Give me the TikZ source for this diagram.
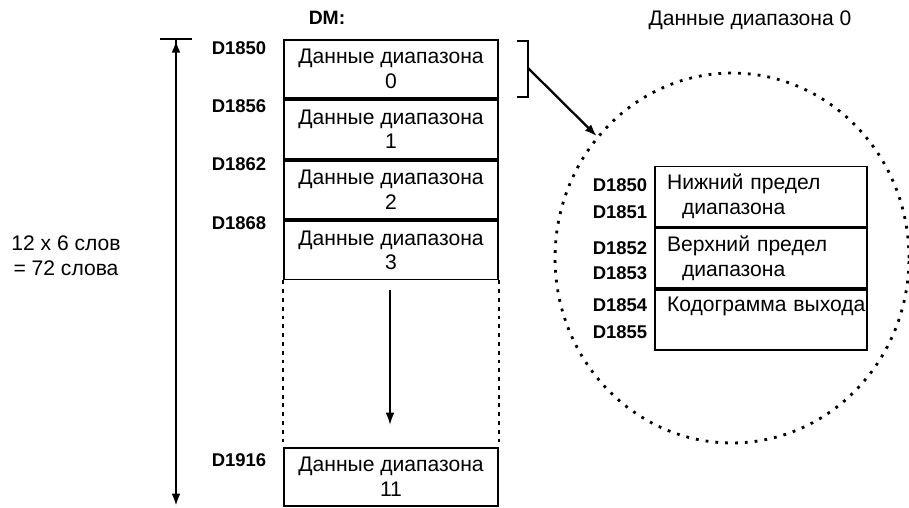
\documentclass[tikz,border=0pt]{standalone}
\usepackage{fontspec}
\setmainfont{Liberation Sans}
\usetikzlibrary{arrows.meta, positioning, shapes.geometric}

\begin{document}
\begin{tikzpicture}[
    x=0.02cm, y=-0.02cm,
    >={Latex[length=7pt,width=5pt]},
    node distance=0pt,
    rangebox/.style={draw, line width=1.1pt, minimum width=4.28cm, minimum height=1.17cm, align=center, inner sep=0pt, font=\fontsize{12}{14}\selectfont},
    rowbox/.style={draw, line width=1.1pt, minimum height=1.2cm, text width=3.76cm, inner xsep=0.24cm, align=left, font=\fontsize{12}{14}\selectfont},
    addr/.style={font=\bfseries\fontsize{10.5}{12}\selectfont, inner sep=0pt},
    txt/.style={font=\fontsize{12}{14}\selectfont, align=center, inner sep=0pt},
    dots/.style={line width=1.6pt, dash pattern=on 1.6pt off 4pt},
    gapline/.style={line width=1.3pt, dash pattern=on 2.2pt off 2.8pt}
]
\useasboundingbox (0,0) rectangle (909,507);

% DM column
\node[addr, font=\bfseries\fontsize{11}{12}\selectfont] (dm) at (327,18) {DM:};
\node[rangebox] (r0) at (391,69) {Данные диапазона\\0};
\node[rangebox, below=of r0] (r1) {Данные диапазона\\1};
\node[rangebox, below=of r1] (r2) {Данные диапазона\\2};
\node[rangebox, below=of r2] (r3) {Данные диапазона\\3};
\node[rangebox] (r11) at (391,477) {Данные диапазона\\11};

% Addresses
\node[addr] (a1850) at (239,48) {D1850};
\node[addr] (a1856) at (239,106) {D1856};
\node[addr] (a1862) at (239,164) {D1862};
\node[addr] (a1868) at (239,223) {D1868};
\node[addr] (a1916) at (239,460) {D1916};

% Gap between range 3 and range 11
\draw[gapline] (r3.south west) -- (r11.north west);
\draw[gapline] (r3.south east) -- (r11.north east);
\coordinate (flowtop) at (390,290);
\coordinate (flowbot) at (390,425);
\draw[->, line width=1.1pt] (flowtop) -- (flowbot);

% Total span
\coordinate (spantop) at (176,38);
\coordinate (spanbot) at (176,506);
\draw[{Bar[width=0.66cm] Latex[length=7pt,width=5pt]}-{Latex[length=7pt,width=5pt]}, line width=1.3pt] (spantop) -- (spanbot);
\node[txt] (total) at (66,256) {12 x 6 слов\\ = 72 слова};

% Bracket and zoom
\draw[line width=1.3pt] (517,41) -| (528,97) -- (517,97);
\coordinate (brk) at (528,68);
\node[txt] (ztitle) at (750,20) {Данные диапазона 0};
\node[ellipse, draw, dots, minimum width=7.08cm, minimum height=7.4cm, inner sep=0pt] (zoom) at (732,258) {};
\draw[->, line width=1.3pt] (brk) -- (zoom.138);

% Range 0 words
\node[rowbox] (t1) at (761,196.5) {Нижний предел\\\hspace*{0.3cm}диапазона};
\node[rowbox, below=of t1] (t2) {Верхний предел\\\hspace*{0.3cm}диапазона};
\node[rowbox, below=of t2] (t3) {\mbox{Кодограмма выхода}\\\strut};

\node[addr] (b1850) at (620,185) {D1850};
\node[addr] (b1851) at (620,212) {D1851};
\node[addr] (b1852) at (620,248) {D1852};
\node[addr] (b1853) at (620,273) {D1853};
\node[addr] (b1854) at (620,305) {D1854};
\node[addr] (b1855) at (620,332) {D1855};

\end{tikzpicture}
\end{document}
